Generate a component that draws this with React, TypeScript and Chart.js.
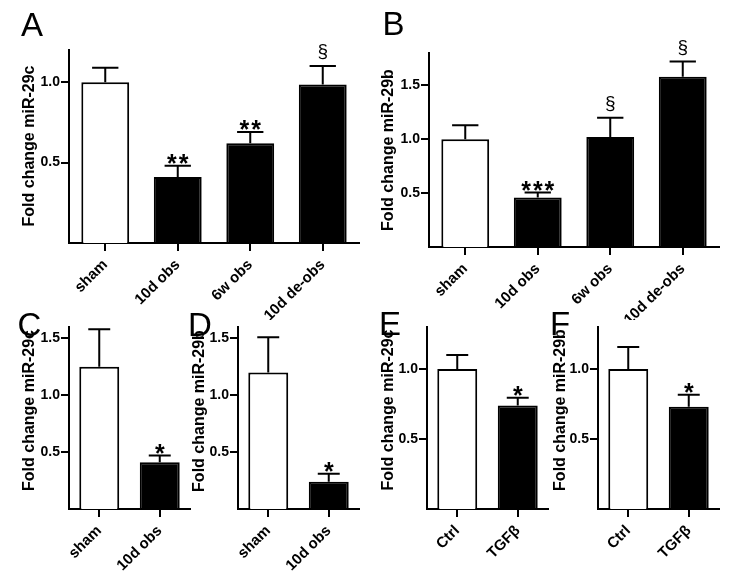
import React, { useEffect, useRef } from "react";
import { Chart, registerables } from "chart.js";
Chart.register(...registerables);

// ---------- data ----------
const catsAB = ["sham", "10d obs", "6w obs", "10d de-obs"];
const catsCD = ["sham", "10d obs"];
const catsEF = ["Ctrl", "TGFβ"];

const meanA = [1.0, 0.41, 0.62, 0.985];
const semA = [0.09, 0.07, 0.07, 0.115];
const sigA = ["", "**", "**", "§"];

const meanB = [1.0, 0.46, 1.02, 1.58];
const semB = [0.13, 0.045, 0.18, 0.14];
const sigB = ["", "***", "§", "§"];

const meanC = [1.25, 0.41];
const semC = [0.33, 0.06];
const sigC = ["", "*"];

const meanD = [1.2, 0.24];
const semD = [0.31, 0.07];
const sigD = ["", "*"];

const meanE = [1.0, 0.74];
const semE = [0.1, 0.055];
const sigE = ["", "*"];

const meanF = [1.0, 0.73];
const semF = [0.157, 0.086];
const sigF = ["", "*"];

const ticksA = [0.5, 1.0];
const ticksB = [0.5, 1.0, 1.5];
const ticksCD = [0.5, 1.0, 1.5];
const ticksEF = [0.5, 1.0];

const titleC = "Fold change miR-29c";
const titleB = "Fold change miR-29b";

// ---------- layout ----------
const FONT = "'Liberation Sans', Arial, Helvetica, sans-serif";

type Panel = {
  letter: string;
  cats: string[];
  mean: number[];
  sem: number[];
  sig: string[];
  ticks: number[];
  yMax: number;
  title: string;
  left: number;
  top: number;
  width: number;
  height: number;
  yWidth: number;
  areaTop: number;
  areaBottom: number;
  areaRight: number;
  letterX: number;
  letterY: number;
  titleX: number;
  titleY: number;
};

const panels: Panel[] = [
  { letter: "A", cats: catsAB, mean: meanA, sem: semA, sig: sigA, ticks: ticksA, yMax: 1.2, title: titleC,
    left: 0, top: 0, width: 370, height: 320, yWidth: 69, areaTop: 50, areaBottom: 243, areaRight: 359,
    letterX: 21, letterY: 36, titleX: 30, titleY: 146 },
  { letter: "B", cats: catsAB, mean: meanB, sem: semB, sig: sigB, ticks: ticksB, yMax: 1.8, title: titleB,
    left: 359, top: 0, width: 386, height: 320, yWidth: 70, areaTop: 53, areaBottom: 247, areaRight: 360,
    letterX: 23.5, letterY: 35, titleX: 29.5, titleY: 150 },
  { letter: "C", cats: catsCD, mean: meanC, sem: semC, sig: sigC, ticks: ticksCD, yMax: 1.6, title: titleC,
    left: 0, top: 300, width: 200, height: 282, yWidth: 69, areaTop: 27, areaBottom: 209, areaRight: 190,
    letterX: 17.5, letterY: 36, titleX: 30, titleY: 110.5 },
  { letter: "D", cats: catsCD, mean: meanD, sem: semD, sig: sigD, ticks: ticksCD, yMax: 1.6, title: titleB,
    left: 170, top: 300, width: 200, height: 282, yWidth: 68, areaTop: 27, areaBottom: 209, areaRight: 189,
    letterX: 18, letterY: 36, titleX: 29.5, titleY: 111 },
  { letter: "E", cats: catsEF, mean: meanE, sem: semE, sig: sigE, ticks: ticksEF, yMax: 1.3, title: titleC,
    left: 359, top: 300, width: 200, height: 282, yWidth: 68, areaTop: 27, areaBottom: 209, areaRight: 189,
    letterX: 20, letterY: 35, titleX: 29.5, titleY: 110 },
  { letter: "F", cats: catsEF, mean: meanF, sem: semF, sig: sigF, ticks: ticksEF, yMax: 1.3, title: titleB,
    left: 531, top: 300, width: 214, height: 282, yWidth: 67, areaTop: 27, areaBottom: 209, areaRight: 188,
    letterX: 19, letterY: 35, titleX: 29.5, titleY: 110 },
];

function ChartPanel({ p }: { p: Panel }) {
  const ref = useRef<HTMLCanvasElement | null>(null);
  useEffect(() => {
    if (!ref.current) return;
    const colors = p.cats.map((_, i) => (i === 0 ? "#ffffff" : "#000000"));
    const errPlugin = {
      id: "errbars",
      afterDatasetsDraw(chart: any) {
        const ctx = chart.ctx;
        const meta = chart.getDatasetMeta(0);
        const ys = chart.scales.y;
        ctx.save();
        ctx.strokeStyle = "#000";
        ctx.lineWidth = 2;
        meta.data.forEach((el: any, i: number) => {
          const x = el.x;
          const yTop = ys.getPixelForValue(p.mean[i]);
          const yErr = ys.getPixelForValue(p.mean[i] + p.sem[i]);
          const half = (el.width * 0.55) / 2;
          ctx.beginPath();
          ctx.moveTo(x, yTop);
          ctx.lineTo(x, yErr);
          ctx.moveTo(x - half, yErr);
          ctx.lineTo(x + half, yErr);
          ctx.stroke();
          const s = p.sig[i];
          if (s) {
            ctx.fillStyle = "#000";
            ctx.textAlign = "center";
            ctx.textBaseline = "alphabetic";
            if (s === "§") {
              ctx.font = `19px ${FONT}`;
              (ctx as any).letterSpacing = "0px";
              ctx.fillText(s, x, yErr - 9);
            } else {
              ctx.font = `bold 25px ${FONT}`;
              (ctx as any).letterSpacing = "2px";
              ctx.fillText(s, x + 1, yErr + 6);
              (ctx as any).letterSpacing = "0px";
            }
          }
        });
        ctx.restore();
      },
      afterDraw(chart: any) {
        const ctx = chart.ctx;
        ctx.save();
        ctx.fillStyle = "#000";
        ctx.font = `33px ${FONT}`;
        ctx.textAlign = "left";
        ctx.textBaseline = "alphabetic";
        ctx.fillText(p.letter, p.letterX, p.letterY);
        ctx.translate(p.titleX, p.titleY);
        ctx.rotate(-Math.PI / 2);
        ctx.font = `bold 16px ${FONT}`;
        ctx.textAlign = "center";
        ctx.textBaseline = "middle";
        ctx.fillText(p.title, 0, 0);
        ctx.restore();
      },
    };

    const chart = new Chart(ref.current, {
      type: "bar",
      data: {
        labels: p.cats,
        datasets: [
          {
            data: p.mean,
            backgroundColor: colors,
            borderColor: "#000",
            borderWidth: 2,
            borderSkipped: "bottom",
            barPercentage: 0.66,
            categoryPercentage: 1,
          },
        ],
      },
      options: {
        responsive: false,
        animation: false,
        devicePixelRatio: 1,
        layout: { padding: { left: 0, top: p.areaTop, right: p.width - p.areaRight, bottom: 0 } },
        plugins: { legend: { display: false }, tooltip: { enabled: false }, title: { display: false } },
        scales: {
          x: {
            type: "category",
            offset: true,
            grid: { offset: false, drawOnChartArea: false, drawTicks: true, tickLength: 8, color: "#000", lineWidth: 2 },
            border: { display: true, color: "#000", width: 2 },
            ticks: {
              color: "#000",
              font: { family: FONT, size: 15, weight: "bold" },
              maxRotation: 45,
              minRotation: 45,
              autoSkip: false,
              padding: 5,
            },
            afterFit: (s: any) => {
              s.height = p.height - p.areaBottom;
            },
          },
          y: {
            type: "linear",
            min: 0,
            max: p.yMax,
            grid: { drawOnChartArea: false, drawTicks: true, tickLength: 8, color: "#000", lineWidth: 2 },
            border: { display: true, color: "#000", width: 2 },
            ticks: {
              color: "#000",
              font: { family: FONT, size: 14, weight: "bold" },
              padding: 1,
              callback: (v: any) => Number(v).toFixed(1),
            },
            afterBuildTicks: (s: any) => {
              s.ticks = p.ticks.map((v) => ({ value: v }));
            },
            title: { display: false },
            afterFit: (s: any) => {
              s.width = p.yWidth;
            },
          },
        },
      },
      plugins: [errPlugin],
    } as any);
    return () => chart.destroy();
  }, [p]);
  return (
    <canvas
      ref={ref}
      width={p.width}
      height={p.height}
      style={{ position: "absolute", left: p.left, top: p.top, width: p.width, height: p.height }}
    />
  );
}

export default function App() {
  return (
    <div style={{ position: "fixed", left: 0, top: 0, width: 745, height: 582, background: "#fff", overflow: "hidden" }}>
      {panels.map((p) => (
        <ChartPanel key={p.letter} p={p} />
      ))}
    </div>
  );
}
